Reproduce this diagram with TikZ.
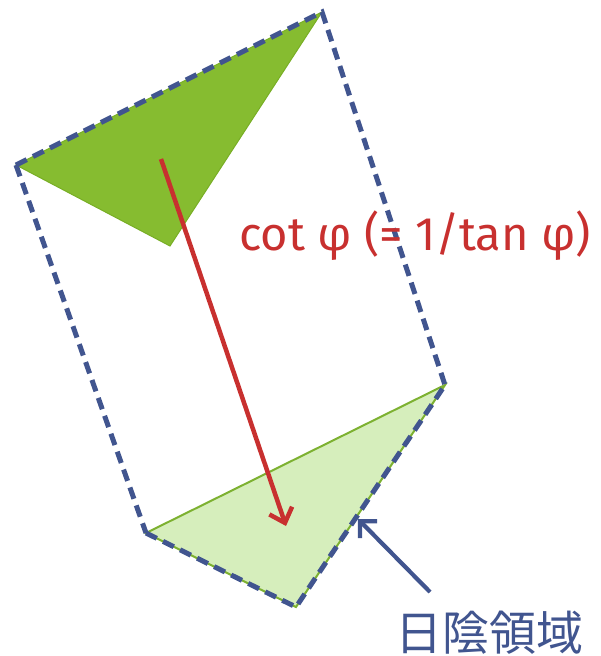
\documentclass[tikz,border=0pt]{standalone}
\usepackage{fontspec}
\setmainfont{Fira Sans}
\newfontfamily\cjk{Noto Sans CJK JP}
\usetikzlibrary{arrows.meta}
\definecolor{dgreen}{HTML}{86BC30}
\definecolor{dgreenE}{HTML}{78AE25}
\definecolor{lgreen}{HTML}{D6EEBC}
\definecolor{lgreenE}{HTML}{7DB131}
\definecolor{dblue}{HTML}{41558F}
\definecolor{dred}{HTML}{C8302F}
\tikzset{
  dashedge/.style={draw=dblue, line width=5pt, dash pattern=on 12pt off 7pt},
  redarrow/.style={draw=dred, line width=4.5pt, -{Straight Barb[length=13pt,width=24pt,line width=4.5pt]}},
  bluearrow/.style={draw=dblue, line width=4.2pt, -{Straight Barb[length=12pt,width=24pt,line width=4.2pt]}},
}
\begin{document}
\begin{tikzpicture}[x=1pt,y=-1pt]
\useasboundingbox (0,0) rectangle (601,656);
% corners
\coordinate (A) at (322,12);
\coordinate (B) at (16,165);
\coordinate (C) at (170,246);
\coordinate (D) at (445,385);
\coordinate (E) at (146,533);
\coordinate (F) at (296,607);
% triangles
\fill[dgreen, draw=dgreenE, line width=1pt] (A) -- (B) -- (C) -- cycle;
\fill[lgreen, draw=lgreenE, line width=2pt] (D) -- (E) -- (F) -- cycle;
% dashed outline
\draw[dashedge] (B) -- (A) -- (D);
\draw[dashedge] (B) -- (E);
\draw[dashedge] (E) -- (F) -- (D);
% arrows
\coordinate (rs) at (161,159);
\coordinate (re) at (286,526);
\draw[redarrow] (rs) -- (re);
\node[text=dred, font=\fontsize{47}{50}\selectfont, inner sep=0pt] (lab) at (415,236) {cot φ (= 1/tan φ)};
\node[text=dblue, font=\cjk\fontsize{47}{50}\selectfont, inner sep=0pt] (shade) at (489,633) {日陰領域};
\coordinate (bs) at (430,592);
\coordinate (be) at (358,519);
\draw[bluearrow] (bs) -- (be);
\end{tikzpicture}
\end{document}
